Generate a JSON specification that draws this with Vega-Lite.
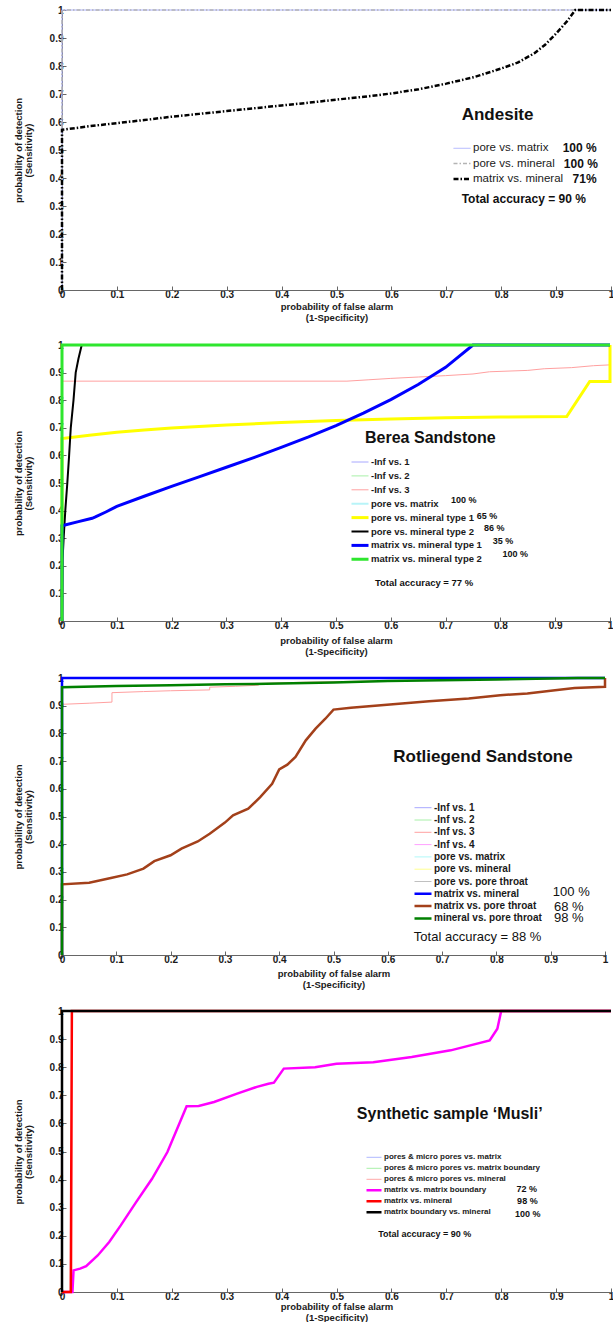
{
  "$schema": "https://vega.github.io/schema/vega-lite/v6.json",
  "padding": {"left": 13, "top": 5, "right": 0, "bottom": 0},
  "spacing": 17,
  "background": "white",
  "resolve": {"scale": {"color": "independent", "strokeDash": "independent", "strokeWidth": "independent"}, "legend": {"color": "independent", "strokeDash": "independent", "strokeWidth": "independent"}},
  "config": {
    "view": {"stroke": null},
    "font": "Liberation Sans",
    "axis": {"labelFont": "Liberation Sans", "labelFontSize": 10, "labelFontWeight": "bold", "labelColor": "#1a1a1a", "titleFont": "Liberation Sans", "titleFontSize": 9.5, "titleFontWeight": "bold", "titleColor": "#1a1a1a", "domainColor": "#666", "tickColor": "#666", "tickSize": -4, "labelPadding": 3, "grid": false, "labelOverlap": false, "tickCount": 11},
    "axisX": {"labelFlush": false, "titlePadding": 2, "titleLineHeight": 11},
    "axisY": {"titlePadding": 4, "titleLineHeight": 9.5, "minExtent": 25, "maxExtent": 25},
    "legend": {"labelFont": "Liberation Sans", "labelColor": "#1a1a1a", "padding": 0, "offset": 0, "symbolType": "stroke", "rowPadding": 0}
  },
  "datasets": {
    "p1": [
      {"s": "pore vs. matrix", "x": 0, "y": 0}, {"s": "pore vs. matrix", "x": 0, "y": 1}, {"s": "pore vs. matrix", "x": 1, "y": 1},
      {"s": "pore vs. mineral", "x": 0, "y": 0}, {"s": "pore vs. mineral", "x": 0, "y": 1}, {"s": "pore vs. mineral", "x": 1, "y": 1},
      {"s": "matrix vs. mineral", "x": 0, "y": 0}, {"s": "matrix vs. mineral", "x": 0, "y": 0.572}, {"s": "matrix vs. mineral", "x": 0.05, "y": 0.585}, {"s": "matrix vs. mineral", "x": 0.1, "y": 0.596}, {"s": "matrix vs. mineral", "x": 0.15, "y": 0.607}, {"s": "matrix vs. mineral", "x": 0.2, "y": 0.619}, {"s": "matrix vs. mineral", "x": 0.25, "y": 0.629}, {"s": "matrix vs. mineral", "x": 0.3, "y": 0.639}, {"s": "matrix vs. mineral", "x": 0.35, "y": 0.649}, {"s": "matrix vs. mineral", "x": 0.4, "y": 0.659}, {"s": "matrix vs. mineral", "x": 0.45, "y": 0.669}, {"s": "matrix vs. mineral", "x": 0.5, "y": 0.68}, {"s": "matrix vs. mineral", "x": 0.55, "y": 0.69}, {"s": "matrix vs. mineral", "x": 0.6, "y": 0.702}, {"s": "matrix vs. mineral", "x": 0.65, "y": 0.717}, {"s": "matrix vs. mineral", "x": 0.7, "y": 0.737}, {"s": "matrix vs. mineral", "x": 0.75, "y": 0.76}, {"s": "matrix vs. mineral", "x": 0.8, "y": 0.791}, {"s": "matrix vs. mineral", "x": 0.83, "y": 0.812}, {"s": "matrix vs. mineral", "x": 0.86, "y": 0.845}, {"s": "matrix vs. mineral", "x": 0.88, "y": 0.876}, {"s": "matrix vs. mineral", "x": 0.9, "y": 0.916}, {"s": "matrix vs. mineral", "x": 0.92, "y": 0.96}, {"s": "matrix vs. mineral", "x": 0.935, "y": 1}, {"s": "matrix vs. mineral", "x": 1, "y": 1}
    ],
    "p2": [
      {"s": "-Inf vs. 1", "x": 0, "y": 0}, {"s": "-Inf vs. 1", "x": 0, "y": 1}, {"s": "-Inf vs. 1", "x": 1, "y": 1},
      {"s": "-Inf vs. 2", "x": 0, "y": 0}, {"s": "-Inf vs. 2", "x": 0, "y": 1}, {"s": "-Inf vs. 2", "x": 1, "y": 1},
      {"s": "-Inf vs. 3", "x": 0, "y": 0}, {"s": "-Inf vs. 3", "x": 0, "y": 0.869}, {"s": "-Inf vs. 3", "x": 0.52, "y": 0.869}, {"s": "-Inf vs. 3", "x": 0.56, "y": 0.874}, {"s": "-Inf vs. 3", "x": 0.6, "y": 0.879}, {"s": "-Inf vs. 3", "x": 0.65, "y": 0.884}, {"s": "-Inf vs. 3", "x": 0.7, "y": 0.889}, {"s": "-Inf vs. 3", "x": 0.75, "y": 0.895}, {"s": "-Inf vs. 3", "x": 0.78, "y": 0.903}, {"s": "-Inf vs. 3", "x": 0.85, "y": 0.908}, {"s": "-Inf vs. 3", "x": 0.88, "y": 0.914}, {"s": "-Inf vs. 3", "x": 0.93, "y": 0.918}, {"s": "-Inf vs. 3", "x": 0.97, "y": 0.925}, {"s": "-Inf vs. 3", "x": 1, "y": 0.928}, {"s": "-Inf vs. 3", "x": 1, "y": 1},
      {"s": "pore vs. matrix", "x": 0, "y": 0}, {"s": "pore vs. matrix", "x": 0, "y": 1}, {"s": "pore vs. matrix", "x": 1, "y": 1},
      {"s": "pore vs. mineral type 1", "x": 0, "y": 0}, {"s": "pore vs. mineral type 1", "x": 0, "y": 0.661}, {"s": "pore vs. mineral type 1", "x": 0.05, "y": 0.673}, {"s": "pore vs. mineral type 1", "x": 0.1, "y": 0.684}, {"s": "pore vs. mineral type 1", "x": 0.15, "y": 0.692}, {"s": "pore vs. mineral type 1", "x": 0.2, "y": 0.699}, {"s": "pore vs. mineral type 1", "x": 0.25, "y": 0.705}, {"s": "pore vs. mineral type 1", "x": 0.3, "y": 0.71}, {"s": "pore vs. mineral type 1", "x": 0.4, "y": 0.719}, {"s": "pore vs. mineral type 1", "x": 0.5, "y": 0.726}, {"s": "pore vs. mineral type 1", "x": 0.6, "y": 0.732}, {"s": "pore vs. mineral type 1", "x": 0.7, "y": 0.736}, {"s": "pore vs. mineral type 1", "x": 0.8, "y": 0.739}, {"s": "pore vs. mineral type 1", "x": 0.921, "y": 0.741}, {"s": "pore vs. mineral type 1", "x": 0.963, "y": 0.868}, {"s": "pore vs. mineral type 1", "x": 1, "y": 0.868}, {"s": "pore vs. mineral type 1", "x": 1, "y": 1},
      {"s": "pore vs. mineral type 2", "x": 0, "y": 0}, {"s": "pore vs. mineral type 2", "x": 0.001, "y": 0.22}, {"s": "pore vs. mineral type 2", "x": 0.003, "y": 0.3}, {"s": "pore vs. mineral type 2", "x": 0.006, "y": 0.4}, {"s": "pore vs. mineral type 2", "x": 0.0097, "y": 0.5}, {"s": "pore vs. mineral type 2", "x": 0.013, "y": 0.6}, {"s": "pore vs. mineral type 2", "x": 0.016, "y": 0.7}, {"s": "pore vs. mineral type 2", "x": 0.021, "y": 0.8}, {"s": "pore vs. mineral type 2", "x": 0.025, "y": 0.9}, {"s": "pore vs. mineral type 2", "x": 0.03, "y": 0.95}, {"s": "pore vs. mineral type 2", "x": 0.036, "y": 1}, {"s": "pore vs. mineral type 2", "x": 1, "y": 1},
      {"s": "matrix vs. mineral type 1", "x": 0, "y": 0}, {"s": "matrix vs. mineral type 1", "x": 0, "y": 0.345}, {"s": "matrix vs. mineral type 1", "x": 0.03, "y": 0.36}, {"s": "matrix vs. mineral type 1", "x": 0.055, "y": 0.372}, {"s": "matrix vs. mineral type 1", "x": 0.06, "y": 0.376}, {"s": "matrix vs. mineral type 1", "x": 0.08, "y": 0.395}, {"s": "matrix vs. mineral type 1", "x": 0.1, "y": 0.415}, {"s": "matrix vs. mineral type 1", "x": 0.15, "y": 0.452}, {"s": "matrix vs. mineral type 1", "x": 0.2, "y": 0.488}, {"s": "matrix vs. mineral type 1", "x": 0.25, "y": 0.522}, {"s": "matrix vs. mineral type 1", "x": 0.3, "y": 0.557}, {"s": "matrix vs. mineral type 1", "x": 0.35, "y": 0.592}, {"s": "matrix vs. mineral type 1", "x": 0.4, "y": 0.629}, {"s": "matrix vs. mineral type 1", "x": 0.45, "y": 0.667}, {"s": "matrix vs. mineral type 1", "x": 0.5, "y": 0.708}, {"s": "matrix vs. mineral type 1", "x": 0.55, "y": 0.753}, {"s": "matrix vs. mineral type 1", "x": 0.6, "y": 0.802}, {"s": "matrix vs. mineral type 1", "x": 0.65, "y": 0.857}, {"s": "matrix vs. mineral type 1", "x": 0.7, "y": 0.919}, {"s": "matrix vs. mineral type 1", "x": 0.75, "y": 1}, {"s": "matrix vs. mineral type 1", "x": 1, "y": 1},
      {"s": "matrix vs. mineral type 2", "x": 0, "y": 0}, {"s": "matrix vs. mineral type 2", "x": 0, "y": 1}, {"s": "matrix vs. mineral type 2", "x": 1, "y": 1}
    ],
    "p3": [
      {"s": "-Inf vs. 1", "x": 0, "y": 0}, {"s": "-Inf vs. 1", "x": 0, "y": 1}, {"s": "-Inf vs. 1", "x": 1, "y": 1},
      {"s": "-Inf vs. 2", "x": 0, "y": 0}, {"s": "-Inf vs. 2", "x": 0, "y": 1}, {"s": "-Inf vs. 2", "x": 1, "y": 1},
      {"s": "-Inf vs. 3", "x": 0, "y": 0}, {"s": "-Inf vs. 3", "x": 0, "y": 0.905}, {"s": "-Inf vs. 3", "x": 0.05, "y": 0.909}, {"s": "-Inf vs. 3", "x": 0.092, "y": 0.913}, {"s": "-Inf vs. 3", "x": 0.092, "y": 0.947}, {"s": "-Inf vs. 3", "x": 0.15, "y": 0.951}, {"s": "-Inf vs. 3", "x": 0.2, "y": 0.954}, {"s": "-Inf vs. 3", "x": 0.272, "y": 0.957}, {"s": "-Inf vs. 3", "x": 0.272, "y": 0.967}, {"s": "-Inf vs. 3", "x": 0.32, "y": 0.97}, {"s": "-Inf vs. 3", "x": 0.362, "y": 0.974}, {"s": "-Inf vs. 3", "x": 0.362, "y": 0.98}, {"s": "-Inf vs. 3", "x": 0.45, "y": 0.985}, {"s": "-Inf vs. 3", "x": 0.6, "y": 0.99}, {"s": "-Inf vs. 3", "x": 0.8, "y": 0.996}, {"s": "-Inf vs. 3", "x": 0.9, "y": 1}, {"s": "-Inf vs. 3", "x": 1, "y": 1},
      {"s": "-Inf vs. 4", "x": 0, "y": 0}, {"s": "-Inf vs. 4", "x": 0, "y": 1}, {"s": "-Inf vs. 4", "x": 1, "y": 1},
      {"s": "pore vs. matrix", "x": 0, "y": 0}, {"s": "pore vs. matrix", "x": 0, "y": 1}, {"s": "pore vs. matrix", "x": 1, "y": 1},
      {"s": "pore vs. mineral", "x": 0, "y": 0}, {"s": "pore vs. mineral", "x": 0, "y": 1}, {"s": "pore vs. mineral", "x": 1, "y": 1},
      {"s": "pore vs. pore throat", "x": 0, "y": 0}, {"s": "pore vs. pore throat", "x": 0, "y": 1}, {"s": "pore vs. pore throat", "x": 1, "y": 1},
      {"s": "matrix vs. mineral", "x": 0, "y": 0}, {"s": "matrix vs. mineral", "x": 0, "y": 1}, {"s": "matrix vs. mineral", "x": 1, "y": 1},
      {"s": "matrix vs. pore throat", "x": 0, "y": 0}, {"s": "matrix vs. pore throat", "x": 0, "y": 0.255}, {"s": "matrix vs. pore throat", "x": 0.05, "y": 0.261}, {"s": "matrix vs. pore throat", "x": 0.09, "y": 0.278}, {"s": "matrix vs. pore throat", "x": 0.12, "y": 0.291}, {"s": "matrix vs. pore throat", "x": 0.15, "y": 0.312}, {"s": "matrix vs. pore throat", "x": 0.17, "y": 0.339}, {"s": "matrix vs. pore throat", "x": 0.2, "y": 0.36}, {"s": "matrix vs. pore throat", "x": 0.22, "y": 0.384}, {"s": "matrix vs. pore throat", "x": 0.25, "y": 0.41}, {"s": "matrix vs. pore throat", "x": 0.272, "y": 0.438}, {"s": "matrix vs. pore throat", "x": 0.3, "y": 0.478}, {"s": "matrix vs. pore throat", "x": 0.315, "y": 0.504}, {"s": "matrix vs. pore throat", "x": 0.343, "y": 0.528}, {"s": "matrix vs. pore throat", "x": 0.365, "y": 0.57}, {"s": "matrix vs. pore throat", "x": 0.387, "y": 0.618}, {"s": "matrix vs. pore throat", "x": 0.4, "y": 0.67}, {"s": "matrix vs. pore throat", "x": 0.415, "y": 0.687}, {"s": "matrix vs. pore throat", "x": 0.43, "y": 0.715}, {"s": "matrix vs. pore throat", "x": 0.449, "y": 0.775}, {"s": "matrix vs. pore throat", "x": 0.467, "y": 0.817}, {"s": "matrix vs. pore throat", "x": 0.485, "y": 0.853}, {"s": "matrix vs. pore throat", "x": 0.5, "y": 0.886}, {"s": "matrix vs. pore throat", "x": 0.532, "y": 0.893}, {"s": "matrix vs. pore throat", "x": 0.604, "y": 0.904}, {"s": "matrix vs. pore throat", "x": 0.676, "y": 0.916}, {"s": "matrix vs. pore throat", "x": 0.749, "y": 0.926}, {"s": "matrix vs. pore throat", "x": 0.807, "y": 0.938}, {"s": "matrix vs. pore throat", "x": 0.857, "y": 0.944}, {"s": "matrix vs. pore throat", "x": 0.908, "y": 0.956}, {"s": "matrix vs. pore throat", "x": 0.944, "y": 0.964}, {"s": "matrix vs. pore throat", "x": 1, "y": 0.968}, {"s": "matrix vs. pore throat", "x": 1, "y": 1},
      {"s": "mineral vs. pore throat", "x": 0, "y": 0}, {"s": "mineral vs. pore throat", "x": 0, "y": 0.967}, {"s": "mineral vs. pore throat", "x": 0.1, "y": 0.971}, {"s": "mineral vs. pore throat", "x": 0.2, "y": 0.974}, {"s": "mineral vs. pore throat", "x": 0.3, "y": 0.977}, {"s": "mineral vs. pore throat", "x": 0.4, "y": 0.98}, {"s": "mineral vs. pore throat", "x": 0.5, "y": 0.984}, {"s": "mineral vs. pore throat", "x": 0.6, "y": 0.989}, {"s": "mineral vs. pore throat", "x": 0.7, "y": 0.992}, {"s": "mineral vs. pore throat", "x": 0.8, "y": 0.995}, {"s": "mineral vs. pore throat", "x": 0.9, "y": 0.998}, {"s": "mineral vs. pore throat", "x": 0.95, "y": 1}, {"s": "mineral vs. pore throat", "x": 1, "y": 1}
    ],
    "p4": [
      {"s": "pores & micro pores vs. matrix", "x": 0, "y": 0}, {"s": "pores & micro pores vs. matrix", "x": 0, "y": 1}, {"s": "pores & micro pores vs. matrix", "x": 1, "y": 1},
      {"s": "pores & micro pores vs. matrix boundary", "x": 0, "y": 0}, {"s": "pores & micro pores vs. matrix boundary", "x": 0, "y": 1}, {"s": "pores & micro pores vs. matrix boundary", "x": 1, "y": 1},
      {"s": "pores & micro pores vs. mineral", "x": 0, "y": 0}, {"s": "pores & micro pores vs. mineral", "x": 0.018, "y": 0}, {"s": "pores & micro pores vs. mineral", "x": 0.018, "y": 1}, {"s": "pores & micro pores vs. mineral", "x": 1, "y": 1},
      {"s": "matrix vs. matrix boundary", "x": 0, "y": 0}, {"s": "matrix vs. matrix boundary", "x": 0.019, "y": 0}, {"s": "matrix vs. matrix boundary", "x": 0.021, "y": 0.077}, {"s": "matrix vs. matrix boundary", "x": 0.033, "y": 0.083}, {"s": "matrix vs. matrix boundary", "x": 0.044, "y": 0.092}, {"s": "matrix vs. matrix boundary", "x": 0.065, "y": 0.13}, {"s": "matrix vs. matrix boundary", "x": 0.086, "y": 0.178}, {"s": "matrix vs. matrix boundary", "x": 0.107, "y": 0.237}, {"s": "matrix vs. matrix boundary", "x": 0.135, "y": 0.32}, {"s": "matrix vs. matrix boundary", "x": 0.164, "y": 0.403}, {"s": "matrix vs. matrix boundary", "x": 0.192, "y": 0.498}, {"s": "matrix vs. matrix boundary", "x": 0.227, "y": 0.661}, {"s": "matrix vs. matrix boundary", "x": 0.249, "y": 0.662}, {"s": "matrix vs. matrix boundary", "x": 0.277, "y": 0.676}, {"s": "matrix vs. matrix boundary", "x": 0.319, "y": 0.706}, {"s": "matrix vs. matrix boundary", "x": 0.355, "y": 0.73}, {"s": "matrix vs. matrix boundary", "x": 0.376, "y": 0.741}, {"s": "matrix vs. matrix boundary", "x": 0.386, "y": 0.745}, {"s": "matrix vs. matrix boundary", "x": 0.404, "y": 0.795}, {"s": "matrix vs. matrix boundary", "x": 0.461, "y": 0.8}, {"s": "matrix vs. matrix boundary", "x": 0.5, "y": 0.8126}, {"s": "matrix vs. matrix boundary", "x": 0.567, "y": 0.818}, {"s": "matrix vs. matrix boundary", "x": 0.637, "y": 0.836}, {"s": "matrix vs. matrix boundary", "x": 0.708, "y": 0.86}, {"s": "matrix vs. matrix boundary", "x": 0.779, "y": 0.895}, {"s": "matrix vs. matrix boundary", "x": 0.793, "y": 0.937}, {"s": "matrix vs. matrix boundary", "x": 0.8, "y": 1}, {"s": "matrix vs. matrix boundary", "x": 1, "y": 1},
      {"s": "matrix vs. mineral", "x": 0, "y": 0}, {"s": "matrix vs. mineral", "x": 0.016, "y": 0}, {"s": "matrix vs. mineral", "x": 0.018, "y": 1}, {"s": "matrix vs. mineral", "x": 1, "y": 1},
      {"s": "matrix boundary vs. mineral", "x": 0, "y": 0}, {"s": "matrix boundary vs. mineral", "x": 0, "y": 1}, {"s": "matrix boundary vs. mineral", "x": 1, "y": 1}
    ]
  },
  "vconcat": [
    {
      "width": 549, "height": 280,
      "layer": [
        {
          "data": {"name": "p1"},
          "mark": {"type": "line", "clip": false},
          "encoding": {
            "x": {"field": "x", "type": "quantitative", "scale": {"domain": [0, 1], "nice": false}, "axis": {"values": [0, 0.1, 0.2, 0.3, 0.4, 0.5, 0.6, 0.7, 0.8, 0.9, 1], "format": "~g", "labelOverlap": false, "tickCount": 11, "title": ["probability of false alarm", "(1-Specificity)"]}},
            "y": {"field": "y", "type": "quantitative", "scale": {"domain": [0, 1], "nice": false}, "axis": {"values": [0, 0.1, 0.2, 0.3, 0.4, 0.5, 0.6, 0.7, 0.8, 0.9, 1], "format": "~g", "labelOverlap": false, "tickCount": 11, "title": ["probability of detection", "(Sensitivity)"]}},
            "color": {"field": "s", "type": "nominal", "scale": {"domain": ["pore vs. matrix", "pore vs. mineral", "matrix vs. mineral"], "range": ["#aab0ff", "#b4b4b4", "#000000"]}, "legend": {"orient": "none", "legendX": 390, "legendY": 130.8, "title": null, "symbolSize": 289, "clipHeight": 15, "rowPadding": 0.3, "labelFontSize": 11.5, "labelFontWeight": "normal", "labelOffset": 1}},
            "strokeDash": {"field": "s", "type": "nominal", "scale": {"domain": ["pore vs. matrix", "pore vs. mineral", "matrix vs. mineral"], "range": [[1, 0], [4, 2, 1.5, 2], [5, 2, 1.5, 2]]}},
            "strokeWidth": {"field": "s", "type": "nominal", "scale": {"type": "ordinal", "domain": ["pore vs. matrix", "pore vs. mineral", "matrix vs. mineral"], "range": [1, 1.5, 2.5]}},
            "order": {"value": null}
          }
        },
        {"data": {"values": [{}]}, "mark": {"type": "text", "align": "left", "baseline": "middle", "font": "Liberation Sans", "fontSize": 17, "fontWeight": "bold", "color": "#111"}, "encoding": {"x": {"datum": 0.728}, "y": {"datum": 0.625}, "text": {"value": "Andesite"}}},
        {"data": {"values": [{}]}, "mark": {"type": "text", "align": "left", "baseline": "middle", "font": "Liberation Sans", "fontSize": 12, "fontWeight": "bold", "color": "#111"}, "encoding": {"x": {"datum": 0.912}, "y": {"datum": 0.506}, "text": {"value": "100 %"}}},
        {"data": {"values": [{}]}, "mark": {"type": "text", "align": "left", "baseline": "middle", "font": "Liberation Sans", "fontSize": 12, "fontWeight": "bold", "color": "#111"}, "encoding": {"x": {"datum": 0.914}, "y": {"datum": 0.45}, "text": {"value": "100 %"}}},
        {"data": {"values": [{}]}, "mark": {"type": "text", "align": "left", "baseline": "middle", "font": "Liberation Sans", "fontSize": 12, "fontWeight": "bold", "color": "#111"}, "encoding": {"x": {"datum": 0.93}, "y": {"datum": 0.396}, "text": {"value": "71%"}}},
        {"data": {"values": [{}]}, "mark": {"type": "text", "align": "left", "baseline": "middle", "font": "Liberation Sans", "fontSize": 12, "fontWeight": "bold", "color": "#111"}, "encoding": {"x": {"datum": 0.728}, "y": {"datum": 0.326}, "text": {"value": "Total accuracy = 90 %"}}}
      ]
    },
    {
      "width": 548, "height": 276,
      "layer": [
        {
          "data": {"name": "p2"},
          "mark": {"type": "line", "clip": false},
          "encoding": {
            "x": {"field": "x", "type": "quantitative", "scale": {"domain": [0, 1], "nice": false}, "axis": {"values": [0, 0.1, 0.2, 0.3, 0.4, 0.5, 0.6, 0.7, 0.8, 0.9, 1], "format": "~g", "labelOverlap": false, "tickCount": 11, "titlePadding": 5, "title": ["probability of false alarm", "(1-Specificity)"]}},
            "y": {"field": "y", "type": "quantitative", "scale": {"domain": [0, 1], "nice": false}, "axis": {"values": [0, 0.1, 0.2, 0.3, 0.4, 0.5, 0.6, 0.7, 0.8, 0.9, 1], "format": "~g", "labelOverlap": false, "tickCount": 11, "title": ["probability of detection", "(Sensitivity)"]}},
            "color": {"field": "s", "type": "nominal", "scale": {"domain": ["-Inf vs. 1", "-Inf vs. 2", "-Inf vs. 3", "pore vs. matrix", "pore vs. mineral type 1", "pore vs. mineral type 2", "matrix vs. mineral type 1", "matrix vs. mineral type 2"], "range": ["#a8a8ff", "#a8f0a8", "#ffa0a0", "#b8f4f8", "#ffff00", "#000000", "#0000ff", "#2ee62e"]}, "legend": {"orient": "none", "legendX": 288, "legendY": 110.5, "title": null, "symbolSize": 289, "clipHeight": 13, "rowPadding": 0.9, "labelFontSize": 9.5, "labelFontWeight": "bold", "labelOffset": 1}},
            "strokeWidth": {"field": "s", "type": "nominal", "scale": {"type": "ordinal", "domain": ["-Inf vs. 1", "-Inf vs. 2", "-Inf vs. 3", "pore vs. matrix", "pore vs. mineral type 1", "pore vs. mineral type 2", "matrix vs. mineral type 1", "matrix vs. mineral type 2"], "range": [1, 1, 1, 2, 3, 2, 3, 3]}},
            "order": {"value": null}
          }
        },
        {"data": {"values": [{}]}, "mark": {"type": "text", "align": "left", "baseline": "middle", "font": "Liberation Sans", "fontSize": 16, "fontWeight": "bold", "color": "#111"}, "encoding": {"x": {"datum": 0.553}, "y": {"datum": 0.663}, "text": {"value": "Berea Sandstone"}}},
        {"data": {"values": [{}]}, "mark": {"type": "text", "align": "left", "baseline": "middle", "font": "Liberation Sans", "fontSize": 9, "fontWeight": "bold", "color": "#111"}, "encoding": {"x": {"datum": 0.71}, "y": {"datum": 0.438}, "text": {"value": "100 %"}}},
        {"data": {"values": [{}]}, "mark": {"type": "text", "align": "left", "baseline": "middle", "font": "Liberation Sans", "fontSize": 9, "fontWeight": "bold", "color": "#111"}, "encoding": {"x": {"datum": 0.757}, "y": {"datum": 0.38}, "text": {"value": "65 %"}}},
        {"data": {"values": [{}]}, "mark": {"type": "text", "align": "left", "baseline": "middle", "font": "Liberation Sans", "fontSize": 9, "fontWeight": "bold", "color": "#111"}, "encoding": {"x": {"datum": 0.77}, "y": {"datum": 0.338}, "text": {"value": "86 %"}}},
        {"data": {"values": [{}]}, "mark": {"type": "text", "align": "left", "baseline": "middle", "font": "Liberation Sans", "fontSize": 9, "fontWeight": "bold", "color": "#111"}, "encoding": {"x": {"datum": 0.786}, "y": {"datum": 0.29}, "text": {"value": "35 %"}}},
        {"data": {"values": [{}]}, "mark": {"type": "text", "align": "left", "baseline": "middle", "font": "Liberation Sans", "fontSize": 9, "fontWeight": "bold", "color": "#111"}, "encoding": {"x": {"datum": 0.804}, "y": {"datum": 0.243}, "text": {"value": "100 %"}}},
        {"data": {"values": [{}]}, "mark": {"type": "text", "align": "left", "baseline": "middle", "font": "Liberation Sans", "fontSize": 9.5, "fontWeight": "bold", "color": "#111"}, "encoding": {"x": {"datum": 0.571}, "y": {"datum": 0.138}, "text": {"value": "Total accuracy = 77 %"}}}
      ]
    },
    {
      "width": 543, "height": 277,
      "layer": [
        {
          "data": {"name": "p3"},
          "mark": {"type": "line", "clip": false},
          "encoding": {
            "x": {"field": "x", "type": "quantitative", "scale": {"domain": [0, 1], "nice": false}, "axis": {"values": [0, 0.1, 0.2, 0.3, 0.4, 0.5, 0.6, 0.7, 0.8, 0.9, 1], "format": "~g", "labelOverlap": false, "tickCount": 11, "titlePadding": 4, "title": ["probability of false alarm", "(1-Specificity)"]}},
            "y": {"field": "y", "type": "quantitative", "scale": {"domain": [0, 1], "nice": false}, "axis": {"values": [0, 0.1, 0.2, 0.3, 0.4, 0.5, 0.6, 0.7, 0.8, 0.9, 1], "format": "~g", "labelOverlap": false, "tickCount": 11, "title": ["probability of detection", "(Sensitivity)"]}},
            "color": {"field": "s", "type": "nominal", "scale": {"domain": ["-Inf vs. 1", "-Inf vs. 2", "-Inf vs. 3", "-Inf vs. 4", "pore vs. matrix", "pore vs. mineral", "pore vs. pore throat", "matrix vs. mineral", "matrix vs. pore throat", "mineral vs. pore throat"], "range": ["#a8a8ff", "#a8f0a8", "#ffa0a0", "#ffa0ff", "#b0f8f8", "#ffff90", "#c0c0c0", "#0000ff", "#a3401a", "#008000"]}, "legend": {"orient": "none", "legendX": 351, "legendY": 123.7, "title": null, "symbolSize": 289, "clipHeight": 12, "rowPadding": 0.3, "labelFontSize": 10, "labelFontWeight": "bold", "labelOffset": 1}},
            "strokeWidth": {"field": "s", "type": "nominal", "scale": {"type": "ordinal", "domain": ["-Inf vs. 1", "-Inf vs. 2", "-Inf vs. 3", "-Inf vs. 4", "pore vs. matrix", "pore vs. mineral", "pore vs. pore throat", "matrix vs. mineral", "matrix vs. pore throat", "mineral vs. pore throat"], "range": [1, 1, 1, 1, 1, 1, 1, 2.5, 2.5, 2.5]}},
            "order": {"value": null}
          }
        },
        {"data": {"values": [{}]}, "mark": {"type": "text", "align": "left", "baseline": "middle", "font": "Liberation Sans", "fontSize": 17, "fontWeight": "bold", "color": "#111"}, "encoding": {"x": {"datum": 0.61}, "y": {"datum": 0.715}, "text": {"value": "Rotliegend Sandstone"}}},
        {"data": {"values": [{}]}, "mark": {"type": "text", "align": "left", "baseline": "middle", "font": "Liberation Sans", "fontSize": 13, "fontWeight": "normal", "color": "#111"}, "encoding": {"x": {"datum": 0.904}, "y": {"datum": 0.226}, "text": {"value": "100 %"}}},
        {"data": {"values": [{}]}, "mark": {"type": "text", "align": "left", "baseline": "middle", "font": "Liberation Sans", "fontSize": 13, "fontWeight": "normal", "color": "#111"}, "encoding": {"x": {"datum": 0.906}, "y": {"datum": 0.174}, "text": {"value": "68 %"}}},
        {"data": {"values": [{}]}, "mark": {"type": "text", "align": "left", "baseline": "middle", "font": "Liberation Sans", "fontSize": 13, "fontWeight": "normal", "color": "#111"}, "encoding": {"x": {"datum": 0.906}, "y": {"datum": 0.134}, "text": {"value": "98 %"}}},
        {"data": {"values": [{}]}, "mark": {"type": "text", "align": "left", "baseline": "middle", "font": "Liberation Sans", "fontSize": 13, "fontWeight": "normal", "color": "#111"}, "encoding": {"x": {"datum": 0.648}, "y": {"datum": 0.066}, "text": {"value": "Total accuracy = 88 %"}}}
      ]
    },
    {
      "width": 549, "height": 281,
      "layer": [
        {
          "data": {"name": "p4"},
          "mark": {"type": "line", "clip": false},
          "encoding": {
            "x": {"field": "x", "type": "quantitative", "scale": {"domain": [0, 1], "nice": false}, "axis": {"values": [0, 0.1, 0.2, 0.3, 0.4, 0.5, 0.6, 0.7, 0.8, 0.9, 1], "format": "~g", "labelOverlap": false, "tickCount": 11, "titlePadding": 0, "title": ["probability of false alarm", "(1-Specificity)"]}},
            "y": {"field": "y", "type": "quantitative", "scale": {"domain": [0, 1], "nice": false}, "axis": {"values": [0, 0.1, 0.2, 0.3, 0.4, 0.5, 0.6, 0.7, 0.8, 0.9, 1], "format": "~g", "labelOverlap": false, "tickCount": 11, "title": ["probability of detection", "(Sensitivity)"]}},
            "color": {"field": "s", "type": "nominal", "scale": {"domain": ["pores & micro pores vs. matrix", "pores & micro pores vs. matrix boundary", "pores & micro pores vs. mineral", "matrix vs. matrix boundary", "matrix vs. mineral", "matrix boundary vs. mineral"], "range": ["#b0b8ff", "#a8f0a8", "#ffa8a8", "#ff00ff", "#ff0000", "#000000"]}, "legend": {"orient": "none", "legendX": 303, "legendY": 140.8, "title": null, "symbolSize": 225, "clipHeight": 11, "labelFontSize": 8, "labelFontWeight": "bold", "labelOffset": 1}},
            "strokeWidth": {"field": "s", "type": "nominal", "scale": {"type": "ordinal", "domain": ["pores & micro pores vs. matrix", "pores & micro pores vs. matrix boundary", "pores & micro pores vs. mineral", "matrix vs. matrix boundary", "matrix vs. mineral", "matrix boundary vs. mineral"], "range": [1, 1, 1, 2.5, 2.5, 2.5]}},
            "order": {"value": null}
          }
        },
        {"data": {"values": [{}]}, "mark": {"type": "text", "align": "left", "baseline": "middle", "font": "Liberation Sans", "fontSize": 16, "fontWeight": "bold", "color": "#111"}, "encoding": {"x": {"datum": 0.537}, "y": {"datum": 0.632}, "text": {"value": "Synthetic sample ‘Musli’"}}},
        {"data": {"values": [{}]}, "mark": {"type": "text", "align": "left", "baseline": "middle", "font": "Liberation Sans", "fontSize": 9, "fontWeight": "bold", "color": "#111"}, "encoding": {"x": {"datum": 0.828}, "y": {"datum": 0.365}, "text": {"value": "72 %"}}},
        {"data": {"values": [{}]}, "mark": {"type": "text", "align": "left", "baseline": "middle", "font": "Liberation Sans", "fontSize": 9, "fontWeight": "bold", "color": "#111"}, "encoding": {"x": {"datum": 0.829}, "y": {"datum": 0.324}, "text": {"value": "98  %"}}},
        {"data": {"values": [{}]}, "mark": {"type": "text", "align": "left", "baseline": "middle", "font": "Liberation Sans", "fontSize": 9, "fontWeight": "bold", "color": "#111"}, "encoding": {"x": {"datum": 0.825}, "y": {"datum": 0.279}, "text": {"value": "100 %"}}},
        {"data": {"values": [{}]}, "mark": {"type": "text", "align": "left", "baseline": "middle", "font": "Liberation Sans", "fontSize": 9, "fontWeight": "bold", "color": "#111"}, "encoding": {"x": {"datum": 0.576}, "y": {"datum": 0.205}, "text": {"value": "Total accuracy = 90 %"}}}
      ]
    }
  ]
}
